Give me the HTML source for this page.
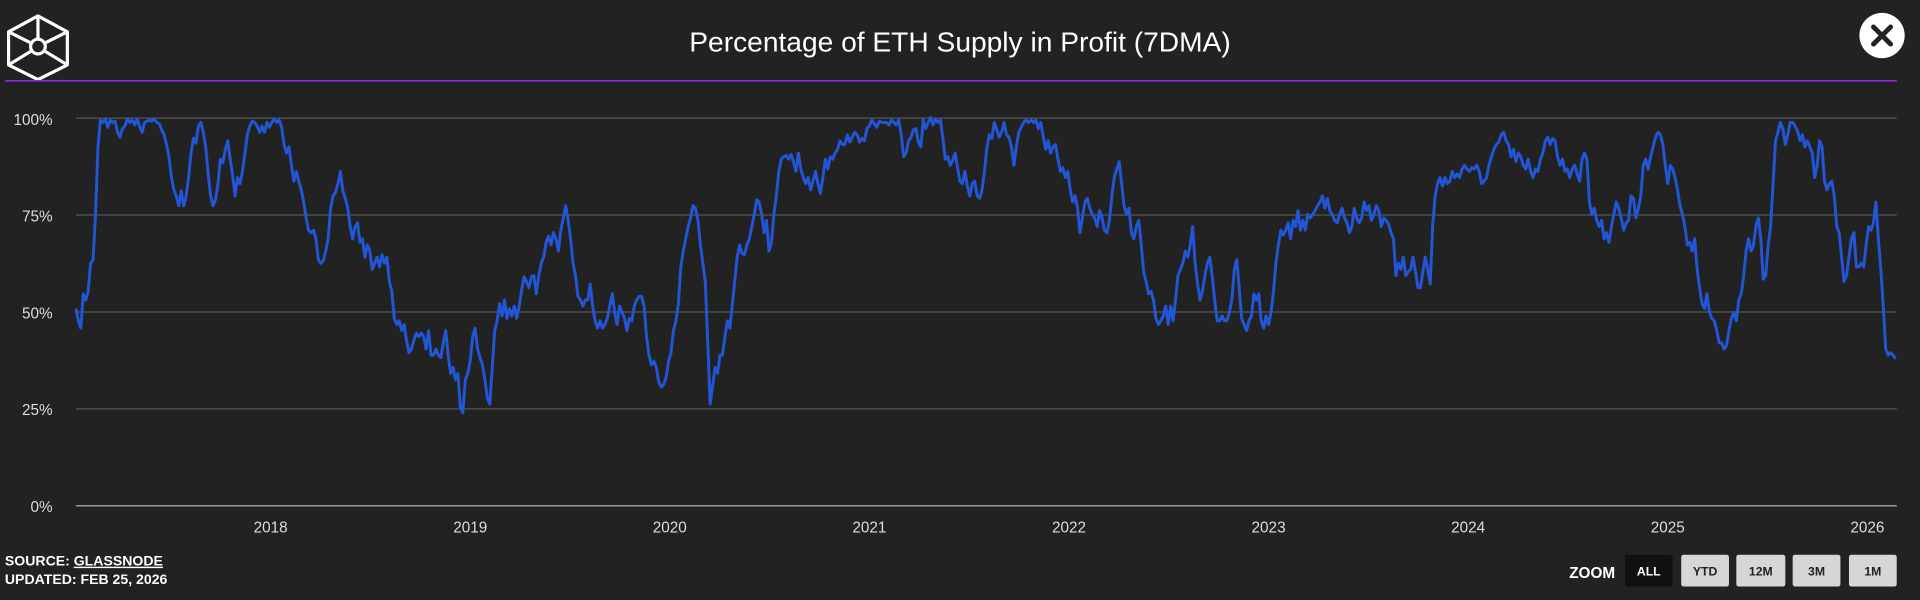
<!DOCTYPE html>
<html><head><meta charset="utf-8"><style>
html,body{margin:0;padding:0;background:#222222;}
svg{display:block}
</style></head><body>
<svg width="1920" height="600" viewBox="0 0 1568 490" xmlns="http://www.w3.org/2000/svg" font-family="Liberation Sans, sans-serif">
<rect width="1568" height="490" fill="#222222"/>
<!-- logo -->
<g fill="none" stroke="#ffffff" stroke-width="2.6" stroke-linejoin="round">
<polygon points="31,13 55,26 55,53 31,65 7,53 7,26"/>
<circle cx="31" cy="38" r="6"/>
<line x1="31" y1="13" x2="31" y2="32"/>
<line x1="7" y1="26" x2="25" y2="35"/>
<line x1="55" y1="26" x2="37" y2="35"/>
<line x1="7" y1="53" x2="25" y2="42"/>
<line x1="55" y1="53" x2="37" y2="42"/>
</g>
<text x="784" y="42" text-anchor="middle" fill="#ffffff" font-size="23">Percentage of ETH Supply in Profit (7DMA)</text>
<circle cx="1537" cy="29" r="18.5" fill="#ffffff"/>
<g stroke="#222" stroke-width="4" stroke-linecap="round"><line x1="1530" y1="22" x2="1544" y2="36"/><line x1="1544" y1="22" x2="1530" y2="36"/></g>
<line x1="4" y1="66" x2="1549" y2="66" stroke="#8a2be2" stroke-width="1.3"/>
<!-- grid -->
<g stroke="#555" stroke-width="1">
<line x1="62" y1="96.5" x2="1549" y2="96.5"/>
<line x1="62" y1="175.6" x2="1549" y2="175.6"/>
<line x1="62" y1="254.8" x2="1549" y2="254.8"/>
<line x1="62" y1="333.9" x2="1549" y2="333.9"/>
</g>
<line x1="62" y1="413" x2="1549" y2="413" stroke="#999" stroke-width="1.2"/>
<g fill="#dddddd" font-size="12.5" text-anchor="end">
<text x="43" y="102">100%</text><text x="43" y="181">75%</text><text x="43" y="260">50%</text><text x="43" y="339">25%</text><text x="43" y="418">0%</text>
</g>
<g fill="#dddddd" font-size="12.5" text-anchor="middle">
<text x="221" y="435">2018</text><text x="384" y="435">2019</text><text x="547" y="435">2020</text><text x="710" y="435">2021</text><text x="873" y="435">2022</text><text x="1036" y="435">2023</text><text x="1199" y="435">2024</text><text x="1362" y="435">2025</text><text x="1525" y="435">2026</text>
</g>
<polyline fill="none" stroke="#2356d6" stroke-width="2.4" stroke-linejoin="round" points="62,252 64,262 66,268 68,240 70,245 72,238 74,215 76,212 78,175 80,120 82,98 84,100 86,97 88,104 90,98 92,100 94,99 96,108 98,112 100,105 102,103 104,97 106,100 108,98 110,102 112,97 114,103 116,108 118,100 120,99 122,98 124,99 126,97 128,100 130,101 132,106 134,110 136,118 138,128 140,145 142,155 144,160 146,168 148,156 150,168 152,160 154,145 156,125 158,113 160,117 162,103 164,100 166,108 168,120 170,142 172,160 174,168 176,163 178,150 180,130 182,133 184,122 186,115 188,130 190,143 192,160 194,145 196,150 198,140 200,125 202,110 204,103 206,99 208,100 210,103 212,108 214,103 216,108 218,100 220,104 222,100 224,97 226,100 228,98 230,104 232,118 234,125 236,120 238,135 240,148 242,140 244,148 246,155 248,165 250,178 252,188 254,190 256,188 258,195 260,212 262,215 264,213 266,205 268,195 270,170 272,160 274,157 276,150 278,140 280,156 282,162 284,170 286,185 288,195 290,185 292,182 294,198 296,195 298,210 300,200 302,205 304,220 306,215 308,210 310,218 312,208 314,215 316,210 318,230 320,238 322,260 324,265 326,262 328,270 330,265 332,278 334,288 336,285 338,278 340,272 342,275 344,272 346,275 348,285 350,270 352,290 354,290 356,285 358,290 360,292 362,280 364,270 366,290 368,305 370,300 372,310 374,305 376,333 378,337 380,310 382,305 384,295 386,275 388,268 390,285 392,292 394,298 396,310 398,325 400,330 402,300 404,270 406,262 408,248 410,258 412,245 414,260 416,252 418,258 420,250 422,260 424,250 426,237 428,226 430,230 432,235 434,226 436,225 438,240 440,225 442,215 444,210 446,198 448,193 450,200 452,190 454,195 456,205 458,188 460,178 462,168 464,180 466,195 468,215 470,225 472,242 474,245 476,250 478,245 480,245 482,232 484,250 486,262 488,268 490,262 492,268 494,265 496,260 498,250 500,240 502,255 504,265 506,250 508,255 510,260 512,270 514,260 516,262 518,250 520,245 522,242 524,242 526,250 528,275 530,290 532,298 534,295 536,300 538,312 540,316 542,314 544,308 546,295 548,288 550,270 552,262 554,248 556,218 558,205 560,195 562,185 564,178 566,168 568,170 570,180 572,200 574,215 576,230 578,280 580,330 582,315 584,300 586,305 588,290 590,290 592,275 594,262 596,268 598,250 600,230 602,210 604,200 606,207 608,208 610,200 612,195 614,185 616,175 618,163 620,165 622,175 624,190 626,180 628,205 630,198 632,175 634,160 636,140 638,130 640,128 642,127 644,130 646,126 648,132 650,140 652,125 654,138 656,145 658,150 660,145 662,155 664,148 666,140 668,150 670,158 672,145 674,130 676,138 678,128 680,130 682,125 684,122 686,115 688,118 690,118 692,110 694,116 696,112 698,108 700,110 702,116 704,113 706,115 708,105 710,103 712,98 714,101 716,104 718,99 720,100 722,100 724,100 726,102 728,98 730,100 732,102 734,98 736,110 738,128 740,125 742,115 744,112 746,106 748,105 750,116 752,120 754,98 756,105 758,100 760,96 762,102 764,97 766,100 768,98 770,113 772,130 774,128 776,135 778,131 780,125 782,137 784,148 786,150 788,140 790,152 792,160 794,150 796,148 798,160 800,162 802,155 804,140 806,120 808,110 810,113 812,100 814,106 816,112 818,108 820,100 822,110 824,112 826,120 828,135 830,120 832,108 834,104 836,100 838,98 840,100 842,98 844,100 846,98 848,105 850,100 852,112 854,122 856,115 858,125 860,120 862,118 864,130 866,140 868,137 870,145 872,140 874,155 876,165 878,160 880,170 882,190 884,178 886,165 888,162 890,170 892,175 894,178 896,185 898,172 900,178 902,188 904,190 906,180 908,160 910,145 912,138 914,132 916,150 918,168 920,175 922,170 924,190 926,195 928,185 930,180 932,200 934,222 936,230 938,240 940,238 942,245 944,260 946,265 948,262 950,258 952,250 954,265 956,250 958,262 960,245 962,225 964,220 966,215 968,205 970,210 972,200 974,185 976,215 978,232 980,245 982,238 984,225 986,215 988,210 990,226 992,245 994,262 996,262 998,258 1000,262 1002,262 1004,255 1006,245 1008,220 1010,212 1012,235 1014,260 1016,265 1018,270 1020,262 1022,258 1024,240 1026,245 1028,240 1030,262 1032,268 1034,258 1036,265 1038,255 1040,238 1042,215 1044,200 1046,188 1048,192 1050,188 1052,182 1054,195 1056,180 1058,185 1060,172 1062,188 1064,180 1066,188 1068,175 1070,178 1072,175 1074,172 1076,168 1078,165 1080,160 1082,170 1084,162 1086,172 1088,175 1090,180 1092,182 1094,175 1096,170 1098,178 1100,182 1102,190 1104,185 1106,170 1108,178 1110,182 1112,178 1114,165 1116,172 1118,168 1120,180 1122,175 1124,168 1126,172 1128,185 1130,178 1132,180 1134,183 1136,190 1138,195 1140,225 1142,215 1144,220 1146,210 1148,225 1150,222 1152,220 1154,210 1156,222 1158,235 1160,235 1162,222 1164,210 1166,220 1168,232 1170,185 1172,160 1174,150 1176,145 1178,152 1180,145 1182,150 1184,148 1186,140 1188,145 1190,142 1192,145 1194,138 1196,135 1198,138 1200,140 1202,137 1204,138 1206,135 1208,140 1210,150 1212,148 1214,145 1216,135 1218,128 1220,122 1222,118 1224,116 1226,110 1228,108 1230,115 1232,118 1234,128 1236,122 1238,132 1240,125 1242,128 1244,135 1246,138 1248,130 1250,140 1252,145 1254,138 1256,140 1258,130 1260,125 1262,115 1264,112 1266,118 1268,113 1270,115 1272,128 1274,135 1276,130 1278,140 1280,138 1282,145 1284,138 1286,135 1288,142 1290,148 1292,130 1294,125 1296,130 1298,165 1300,175 1302,170 1304,180 1306,185 1308,180 1310,195 1312,190 1314,198 1316,185 1318,175 1320,165 1322,170 1324,178 1326,188 1328,182 1330,180 1332,160 1334,162 1336,178 1338,170 1340,160 1342,135 1344,130 1346,138 1348,128 1350,120 1352,112 1354,108 1356,110 1358,118 1360,135 1362,150 1364,135 1366,138 1368,145 1370,155 1372,168 1374,175 1376,185 1378,200 1380,198 1382,205 1384,195 1386,220 1388,235 1390,248 1392,252 1394,240 1396,255 1398,260 1400,262 1402,270 1404,280 1406,280 1408,285 1410,282 1412,270 1414,260 1416,255 1418,262 1420,245 1422,240 1424,225 1426,205 1428,195 1430,205 1432,200 1434,185 1436,178 1438,195 1440,228 1442,225 1444,200 1446,185 1448,150 1450,115 1452,108 1454,100 1456,105 1458,118 1460,110 1462,100 1464,100 1466,103 1468,107 1470,115 1472,110 1474,120 1476,115 1478,120 1480,125 1482,145 1484,135 1486,115 1488,120 1490,148 1492,155 1494,150 1496,148 1498,160 1500,185 1502,190 1504,210 1506,230 1508,225 1510,210 1512,195 1514,190 1516,218 1518,218 1520,215 1522,218 1524,200 1526,185 1528,188 1530,182 1532,165 1534,195 1536,220 1538,250 1540,285 1542,290 1544,288 1546,290 1548,293"/>
<!-- footer -->
<g fill="#ffffff" font-size="11.5" font-weight="bold">
<text x="4" y="462">SOURCE: <tspan text-decoration="underline">GLASSNODE</tspan></text>
<text x="4" y="477">UPDATED: FEB 25, 2026</text>
<text x="1319" y="472" text-anchor="end" font-size="12.5">ZOOM</text>
</g>
<rect x="1327" y="453" width="39" height="26" rx="2" fill="#111"/>
<rect x="1373" y="453" width="39" height="26" rx="2" fill="#d6d6d6"/>
<rect x="1418" y="453" width="40" height="26" rx="2" fill="#d6d6d6"/>
<rect x="1464" y="453" width="39" height="26" rx="2" fill="#d6d6d6"/>
<rect x="1510" y="453" width="39" height="26" rx="2" fill="#d6d6d6"/>
<g font-size="10" font-weight="bold" text-anchor="middle">
<text x="1346.5" y="470" fill="#fff">ALL</text>
<text x="1392.5" y="470" fill="#222">YTD</text>
<text x="1438" y="470" fill="#222">12M</text>
<text x="1483.5" y="470" fill="#222">3M</text>
<text x="1529.5" y="470" fill="#222">1M</text>
</g>
</svg>
</body></html>
